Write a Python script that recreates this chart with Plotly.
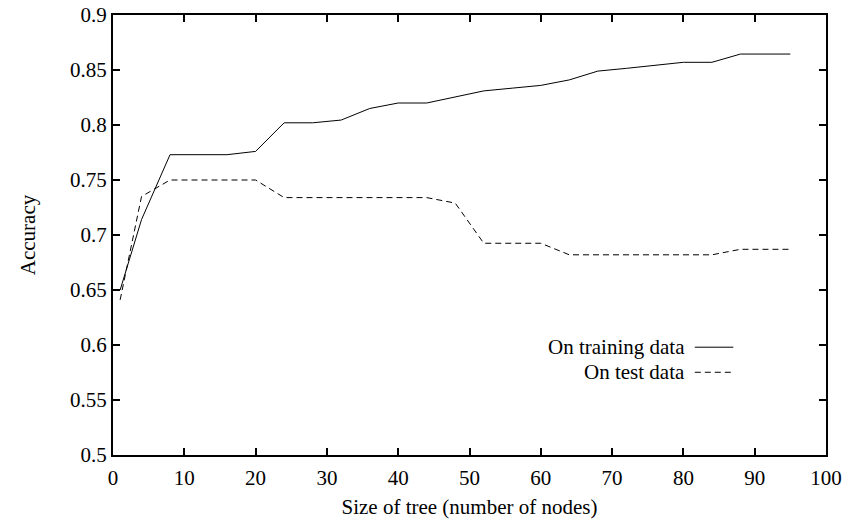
import plotly.graph_objects as go

train_x = [1, 4, 8, 12, 16, 20, 24, 28, 32, 36, 40, 44, 48, 52, 56, 60, 64, 68, 72, 76, 80, 84, 88, 95]
train_y = [0.65, 0.714, 0.773, 0.773, 0.773, 0.776, 0.802, 0.802, 0.8045, 0.815, 0.82, 0.82, 0.8255, 0.831, 0.8335, 0.836, 0.841, 0.849, 0.8515, 0.854, 0.857, 0.857, 0.8645, 0.8645]

test_x = [1, 4, 8, 12, 16, 20, 24, 28, 32, 36, 40, 44, 48, 52, 56, 60, 64, 68, 72, 76, 80, 84, 88, 95]
test_y = [0.641, 0.735, 0.75, 0.75, 0.75, 0.75, 0.734, 0.734, 0.734, 0.734, 0.734, 0.734, 0.729, 0.6925, 0.6925, 0.6925, 0.682, 0.682, 0.682, 0.682, 0.682, 0.682, 0.687, 0.687]

legend_labels = ["On training data", "On test data"]
x_ticks = list(range(0, 101, 10))
y_ticks = [0.5, 0.55, 0.6, 0.65, 0.7, 0.75, 0.8, 0.85, 0.9]

FONT = "Liberation Serif"
FS = 21
fig = go.Figure()
fig.add_trace(go.Scatter(x=train_x, y=train_y, mode="lines",
                         line=dict(color="black", width=1), name=legend_labels[0],
                         showlegend=False))
fig.add_trace(go.Scatter(x=test_x, y=test_y, mode="lines",
                         line=dict(color="black", width=1, dash="6px,4px"), name=legend_labels[1],
                         showlegend=False))

# manual legend (text on the left, sample on the right, gnuplot style)
for i, (lab, dash) in enumerate(zip(legend_labels, ["solid", "6px,4px"])):
    yp = 0.245 - i * 0.057
    fig.add_annotation(x=0.805, y=yp, xref="paper", yref="paper", text=lab,
                       showarrow=False, xanchor="right", yanchor="middle",
                       font=dict(family=FONT, size=FS, color="black"))
    fig.add_shape(type="line", xref="paper", yref="paper",
                  x0=0.816, x1=0.870, y0=yp, y1=yp,
                  line=dict(color="black", width=1, dash=dash))

axis_common = dict(showline=True, linecolor="black", linewidth=2, mirror="ticks",
                   ticks="inside", ticklen=7, tickwidth=1.5, tickcolor="black",
                   showgrid=False, zeroline=False, automargin=False,
                   tickfont=dict(family=FONT, size=FS, color="black"))
fig.update_xaxes(range=[0, 100], tickvals=x_ticks, ticktext=[str(v) for v in x_ticks],
                 ticklabelstandoff=3,
                 title=dict(text="Size of tree (number of nodes)", standoff=10,
                            font=dict(family=FONT, size=FS, color="black")),
                 **axis_common)
fig.update_yaxes(range=[0.5, 0.9], tickvals=y_ticks, ticktext=[f"{v:g}" for v in y_ticks],
                 title=dict(text="Accuracy", standoff=29,
                            font=dict(family=FONT, size=FS, color="black")),
                 **axis_common)
fig.update_layout(width=861, height=525, margin=dict(l=113, r=35, t=15, b=70),
                  plot_bgcolor="white", paper_bgcolor="white",
                  font=dict(family=FONT, size=FS, color="black"))
fig.write_html("out.html", config={"displayModeBar": False},
               post_script="document.body.style.margin='0';")
